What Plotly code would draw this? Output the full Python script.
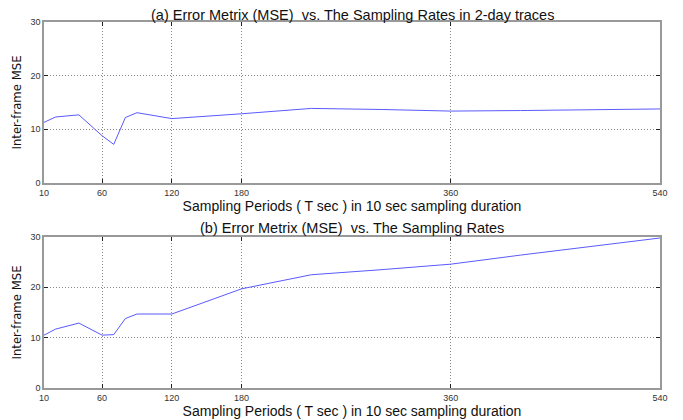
import plotly.graph_objects as go

periods = [10, 20, 40, 60, 70, 80, 90, 120, 180, 240, 300, 360, 420, 480, 540]
mse_2day = [11.3, 12.3, 12.7, 8.8, 7.2, 12.2, 13.1, 12.0, 12.9, 13.9, 13.7, 13.4, 13.5, 13.7, 13.8]
mse_all = [10.5, 11.7, 12.9, 10.5, 10.6, 13.8, 14.7, 14.7, 19.7, 22.5, 23.5, 24.6, 26.4, 28.1, 29.8]
x_ticks = [10, 60, 120, 180, 360, 540]
y_ticks = [0, 10, 20, 30]
title_a = "(a) Error Metrix (MSE)  vs. The Sampling Rates in 2-day traces"
title_b = "(b) Error Metrix (MSE)  vs. The Sampling Rates"
x_label = "Sampling Periods ( T sec ) in 10 sec sampling duration"
y_label = "Inter-frame MSE"

fig = go.Figure()
fig.add_trace(go.Scatter(x=periods, y=mse_2day, mode="lines",
                         line=dict(color="#5a5aff", width=1), xaxis="x", yaxis="y"))
fig.add_trace(go.Scatter(x=periods, y=mse_all, mode="lines",
                         line=dict(color="#5a5aff", width=1), xaxis="x2", yaxis="y2"))

axis_common = dict(showline=True, linecolor="#999", linewidth=1.5, mirror="ticks",
                   ticks="inside", ticklen=4, tickcolor="#222", tickwidth=1,
                   showgrid=True, gridcolor="#888", griddash="1px,2px", gridwidth=1,
                   zeroline=False, automargin=False,
                   tickfont=dict(family="Arial, Liberation Sans", size=9, color="#333"))

xa = dict(axis_common, range=[10, 540], tickvals=x_ticks,
          title=dict(text=x_label, font=dict(family="Arial, Liberation Sans", size=14, color="#111"), standoff=1))
ya = dict(axis_common, range=[0, 30], tickvals=y_ticks,
          title=dict(text=y_label, font=dict(family="Liberation Sans Narrow, DejaVu Sans Condensed, Arial", size=13, color="#111"), standoff=6))

fig.update_layout(
    width=675, height=412,
    margin=dict(l=36, r=23, t=14, b=32),
    paper_bgcolor="white", plot_bgcolor="white",
    showlegend=False,
    xaxis=dict(xa, domain=[0, 1], anchor="y"),
    yaxis=dict(ya, domain=[0.5601, 1], anchor="x"),
    xaxis2=dict(xa, domain=[0, 1], anchor="y2"),
    yaxis2=dict(ya, domain=[0, 0.4126], anchor="x2"),
    annotations=[
        dict(text=title_a, xref="paper", yref="paper", x=0.5, y=1, yshift=-3,
             xanchor="center", yanchor="bottom", showarrow=False,
             font=dict(family="Arial, Liberation Sans", size=14.5, color="#111")),
        dict(text=title_b, xref="paper", yref="paper", x=0.5, y=0.4126, yshift=-1,
             xanchor="center", yanchor="bottom", showarrow=False,
             font=dict(family="Arial, Liberation Sans", size=14.5, color="#111")),
    ],
)

fig.write_html("out.html")
